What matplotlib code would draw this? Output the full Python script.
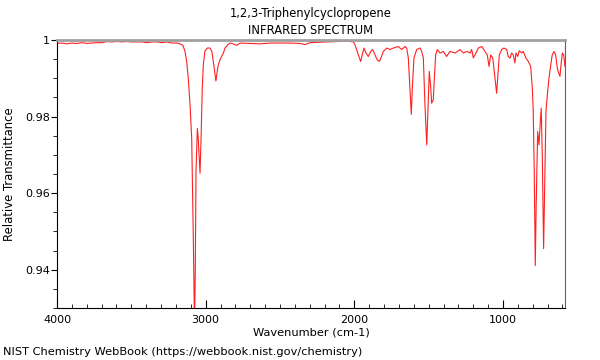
import matplotlib
matplotlib.use('Agg')
import matplotlib.pyplot as plt
from matplotlib.ticker import MultipleLocator, FuncFormatter

# spectrum (wavenumber in cm-1, relative transmittance)
wavenumber = [
    4000, 3966, 3933, 3899, 3865, 3832, 3798, 3765, 3731, 3697,
    3664, 3630, 3596, 3563, 3529, 3496, 3462, 3428, 3395, 3361,
    3327, 3294, 3260, 3227, 3193, 3173, 3153, 3139, 3128, 3117,
    3105, 3094, 3083, 3075, 3070, 3065, 3056, 3050, 3038, 3031,
    3023, 3016, 3005, 2989, 2971, 2959, 2949, 2937, 2931, 2922,
    2915, 2904, 2892, 2881, 2870, 2850, 2836, 2816, 2791, 2769,
    2702, 2635, 2567, 2500, 2433, 2366, 2332, 2298, 2245, 2186,
    2123, 2051, 2007, 1996, 1973, 1957, 1944, 1935, 1922, 1906,
    1890, 1877, 1861, 1846, 1832, 1821, 1805, 1782, 1760, 1738,
    1704, 1682, 1659, 1648, 1637, 1626, 1617, 1610, 1599, 1581,
    1558, 1547, 1536, 1525, 1513, 1504, 1496, 1486, 1480, 1469,
    1462, 1453, 1442, 1424, 1402, 1379, 1357, 1323, 1289, 1267,
    1244, 1222, 1211, 1200, 1182, 1166, 1143, 1121, 1106, 1094,
    1083, 1069, 1054, 1043, 1036, 1025, 1009, 994, 975, 965,
    953, 942, 931, 920, 913, 901, 891, 874, 864, 846,
    830, 814, 803, 797, 790, 783, 777, 767, 758, 749,
    743, 736, 727, 718, 711, 702, 691, 679, 669, 657,
    646, 635, 626, 617, 610, 601, 592, 583,
]
transmittance = [
    0.9991, 0.9992, 0.9990, 0.9992, 0.9991, 0.9993, 0.9991, 0.9992, 0.9993, 0.9993,
    0.9996, 0.9995, 0.9996, 0.9995, 0.9996, 0.9995, 0.9995, 0.9995, 0.9993, 0.9995,
    0.9995, 0.9993, 0.9995, 0.9992, 0.9992, 0.9990, 0.9986, 0.9970, 0.9945, 0.9900,
    0.9830, 0.9743, 0.9481, 0.9250, 0.9395, 0.9657, 0.9769, 0.9743, 0.9652, 0.9743,
    0.9874, 0.9935, 0.9971, 0.9979, 0.9979, 0.9971, 0.9945, 0.9909, 0.9893, 0.9919,
    0.9935, 0.9948, 0.9958, 0.9966, 0.9979, 0.9988, 0.9992, 0.9990, 0.9986, 0.9992,
    0.9991, 0.9990, 0.9992, 0.9992, 0.9992, 0.9991, 0.9988, 0.9993, 0.9994, 0.9995,
    0.9996, 0.9997, 0.9995, 0.9988, 0.9961, 0.9944, 0.9966, 0.9979, 0.9966, 0.9957,
    0.9970, 0.9975, 0.9961, 0.9948, 0.9944, 0.9953, 0.9970, 0.9979, 0.9975, 0.9979,
    0.9983, 0.9975, 0.9983, 0.9979, 0.9953, 0.9874, 0.9806, 0.9874, 0.9953, 0.9975,
    0.9979, 0.9970, 0.9953, 0.9830, 0.9726, 0.9830, 0.9918, 0.9874, 0.9835, 0.9844,
    0.9900, 0.9961, 0.9975, 0.9966, 0.9970, 0.9957, 0.9970, 0.9966, 0.9975, 0.9966,
    0.9970, 0.9966, 0.9975, 0.9953, 0.9966, 0.9979, 0.9983, 0.9970, 0.9961, 0.9931,
    0.9961, 0.9953, 0.9900, 0.9861, 0.9900, 0.9961, 0.9975, 0.9979, 0.9975, 0.9957,
    0.9953, 0.9966, 0.9961, 0.9940, 0.9966, 0.9957, 0.9972, 0.9966, 0.9970, 0.9953,
    0.9944, 0.9931, 0.9874, 0.9817, 0.9657, 0.9411, 0.9568, 0.9761, 0.9726, 0.9788,
    0.9822, 0.9699, 0.9455, 0.9657, 0.9814, 0.9857, 0.9900, 0.9935, 0.9961, 0.9970,
    0.9961, 0.9927, 0.9914, 0.9905, 0.9935, 0.9966, 0.9961, 0.9931,
]

compound = '1,2,3-Triphenylcyclopropene'

fig = plt.figure(figsize=(6, 3.6), dpi=100)
ax = fig.add_axes([0.095, 0.1444, 0.8467, 0.7445])

ax.plot(wavenumber, transmittance, color='#ff2020', linewidth=0.8)

ax.set_xlim(4000, 583)
ax.set_ylim(0.93, 1.0)

# x ticks point into the plot, y ticks point out
ax.xaxis.set_major_locator(MultipleLocator(1000))
ax.xaxis.set_minor_locator(MultipleLocator(100))
ax.yaxis.set_major_locator(MultipleLocator(0.02))
ax.yaxis.set_minor_locator(MultipleLocator(0.005))
ax.yaxis.set_major_formatter(FuncFormatter(lambda v, pos: '%g' % round(v, 4)))
ax.tick_params(axis='x', which='major', direction='in', length=6, width=0.8, labelsize=8, pad=5)
ax.tick_params(axis='x', which='minor', direction='in', length=3, width=0.6)
ax.tick_params(axis='y', which='major', direction='out', length=4, width=0.8, labelsize=8, pad=1)
ax.tick_params(axis='y', which='minor', direction='out', length=3, width=0.6)
ax.tick_params(top=False, right=False, which='both')

ax.spines['top'].set_color('#a0a0a0')
ax.spines['top'].set_linewidth(2)
ax.spines['right'].set_color('#606060')

ax.set_xlabel('Wavenumber (cm-1)', fontsize=8.2, labelpad=2)
ax.set_ylabel('Relative Transmittance', fontsize=8.4)
ax.yaxis.set_label_coords(-0.08, 0.5)

# two title lines placed separately to get the wide line gap
fig.text(311 / 600, 1 - 13 / 360, compound, fontsize=8.3, ha='center', va='center')
fig.text(311 / 600, 1 - 30 / 360, 'INFRARED SPECTRUM', fontsize=8.3, ha='center', va='center')

fig.text(3 / 600, 1 - 352 / 360, 'NIST Chemistry WebBook (https://webbook.nist.gov/chemistry)',
         fontsize=8.2, va='center', ha='left')

plt.savefig('out.png', dpi=100)
plt.close()
